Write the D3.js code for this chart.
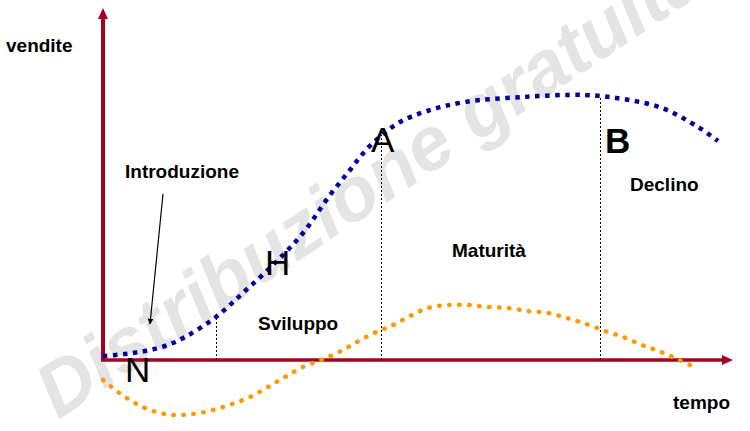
<!DOCTYPE html>
<html>
<head>
<meta charset="utf-8">
<script src="https://cdn.jsdelivr.net/npm/d3@7"></script>
<style>
  html, body { margin: 0; padding: 0; background: #fff; overflow: hidden; }
  text { font-family: "Liberation Sans", Arial, sans-serif; }
</style>
</head>
<body>
<svg id="chart"></svg>
<script>
// curva delle vendite (blu): tempo -> vendite
const tempoVendite = [0, 22, 42, 62, 82, 113, 142, 172, 200, 227, 247, 263, 278, 297, 324, 362, 420, 482, 520, 559, 595, 615];
const vendite = [4, 6, 9, 14, 23, 43, 69, 97, 127, 165, 190, 210, 224, 238, 249, 258, 263, 265, 261, 252, 233, 219];

// curva arancione (profitti): tempo -> valore
const tempoProfitti = [0, 15, 32, 50, 70, 90, 110, 129, 147, 165, 182, 200, 218, 236, 254, 271, 290, 307, 325, 345, 365, 385, 405, 425, 445, 464, 483, 502, 520, 539, 558, 576, 587];
const profitti = [-20, -32, -43, -51, -55, -54, -50, -44, -37, -27, -17, -7, 0, 8, 18, 27, 35, 44, 52, 55, 55, 53, 52, 49, 47, 42, 36, 29, 23, 15, 8, 0, -5];

// fasi del ciclo di vita e punti notevoli
const fasi = ["Introduzione", "Sviluppo", "Maturità", "Declino"];
const punti = ["N", "H", "A", "B"];
const confini = [113, 278, 497];      // tempo in cui cambia fase
const confiniTop = [43, 225, 262];    // altezza delle linee tratteggiate

const assi = { x: "tempo", y: "vendite" };
const filigrana = "Distribuzione gratuita";

const width = 750;
const height = 431;
const rosso = "#a50021";

const svg = d3.select("#chart")
    .attr("width", width)
    .attr("height", height);

// scales (domain in chart units)
const x = d3.scaleLinear().domain([0, 630]).range([103, 733]);
const y = d3.scaleLinear().domain([0, 352]).range([360, 8]);

// watermark behind everything
svg.append("text")
    .attr("transform", "translate(58,420) rotate(-33.5)")
    .attr("font-size", 76)
    .attr("font-weight", "bold")
    .attr("font-style", "italic")
    .attr("fill", "#e4e4e4")
    .text(filigrana);

// axes
const assiG = svg.append("g");
assiG.append("line")
    .attr("x1", x(0)).attr("y1", y(0))
    .attr("x2", x(0)).attr("y2", y(352) + 9)
    .attr("stroke", rosso).attr("stroke-width", 4);
assiG.append("path")
    .attr("d", `M${x(0)},${y(352)} L${x(0) - 5},${y(352) + 11} L${x(0) + 5},${y(352) + 11} Z`)
    .attr("fill", rosso);
assiG.append("line")
    .attr("x1", x(0) - 2).attr("y1", y(0))
    .attr("x2", x(630) - 8).attr("y2", y(0))
    .attr("stroke", rosso).attr("stroke-width", 3.5);
assiG.append("path")
    .attr("d", `M${x(630)},${y(0)} L${x(630) - 11},${y(0) - 5} L${x(630) - 11},${y(0) + 5} Z`)
    .attr("fill", rosso);

// dotted phase boundaries
svg.selectAll("line.confine")
    .data(confini)
    .enter()
    .append("line")
    .attr("class", "confine")
    .attr("x1", d => Math.round(x(d)) + 0.5)
    .attr("x2", d => Math.round(x(d)) + 0.5)
    .attr("y1", y(0))
    .attr("y2", (d, i) => y(confiniTop[i]))
    .attr("stroke", "#000")
    .attr("stroke-width", 1)
    .attr("stroke-dasharray", "2,2");

// curves
const linea = d3.line()
    .x(d => x(d[0]))
    .y(d => y(d[1]))
    .curve(d3.curveCatmullRom.alpha(0.5));

svg.append("path")
    .attr("d", linea(d3.zip(tempoProfitti, profitti)))
    .attr("fill", "none")
    .attr("stroke", "#ff9900")
    .attr("stroke-width", 4.5)
    .attr("stroke-linecap", "round")
    .attr("stroke-dasharray", "0.5,9.5");

svg.append("path")
    .attr("d", linea(d3.zip(tempoVendite, vendite)))
    .attr("fill", "none")
    .attr("stroke", "#000099")
    .attr("stroke-width", 4.5)
    .attr("stroke-dasharray", "4.5,5.5");

// arrow from "Introduzione"
svg.append("defs").append("marker")
    .attr("id", "freccia")
    .attr("viewBox", "0 0 10 10")
    .attr("refX", 9).attr("refY", 5)
    .attr("markerWidth", 6).attr("markerHeight", 6)
    .attr("markerUnits", "userSpaceOnUse")
    .attr("orient", "auto")
    .append("path")
    .attr("d", "M0,0 L10,5 L0,10 Z")
    .attr("fill", "#000");

svg.append("line")
    .attr("x1", x(60)).attr("y1", y(166))
    .attr("x2", x(47)).attr("y2", y(36))
    .attr("stroke", "#000")
    .attr("stroke-width", 1.2)
    .attr("marker-end", "url(#freccia)");

// phase labels
const posFasi = [[22, 182], [155, 30], [349, 103], [527, 169]];
svg.selectAll("text.fase")
    .data(fasi)
    .enter()
    .append("text")
    .attr("class", "fase")
    .attr("x", (d, i) => x(posFasi[i][0]))
    .attr("y", (d, i) => y(posFasi[i][1]))
    .attr("font-size", 19)
    .attr("font-weight", "bold")
    .attr("fill", "#000")
    .text(d => d);

// big letters
const posPunti = [[22, -22], [162, 85], [268, 208], [502, 207]];
svg.selectAll("text.punto")
    .data(punti)
    .enter()
    .append("text")
    .attr("class", "punto")
    .attr("x", (d, i) => x(posPunti[i][0]))
    .attr("y", (d, i) => y(posPunti[i][1]))
    .attr("font-size", 35)
    .attr("font-weight", d => d === "B" ? "bold" : "normal")
    .attr("fill", "#000")
    .text(d => d);

// axis titles
svg.append("text")
    .attr("x", 6).attr("y", 52)
    .attr("font-size", 19).attr("font-weight", "bold")
    .text(assi.y);
svg.append("text")
    .attr("x", 673).attr("y", 409)
    .attr("font-size", 19).attr("font-weight", "bold")
    .text(assi.x);
</script>
</body>
</html>
